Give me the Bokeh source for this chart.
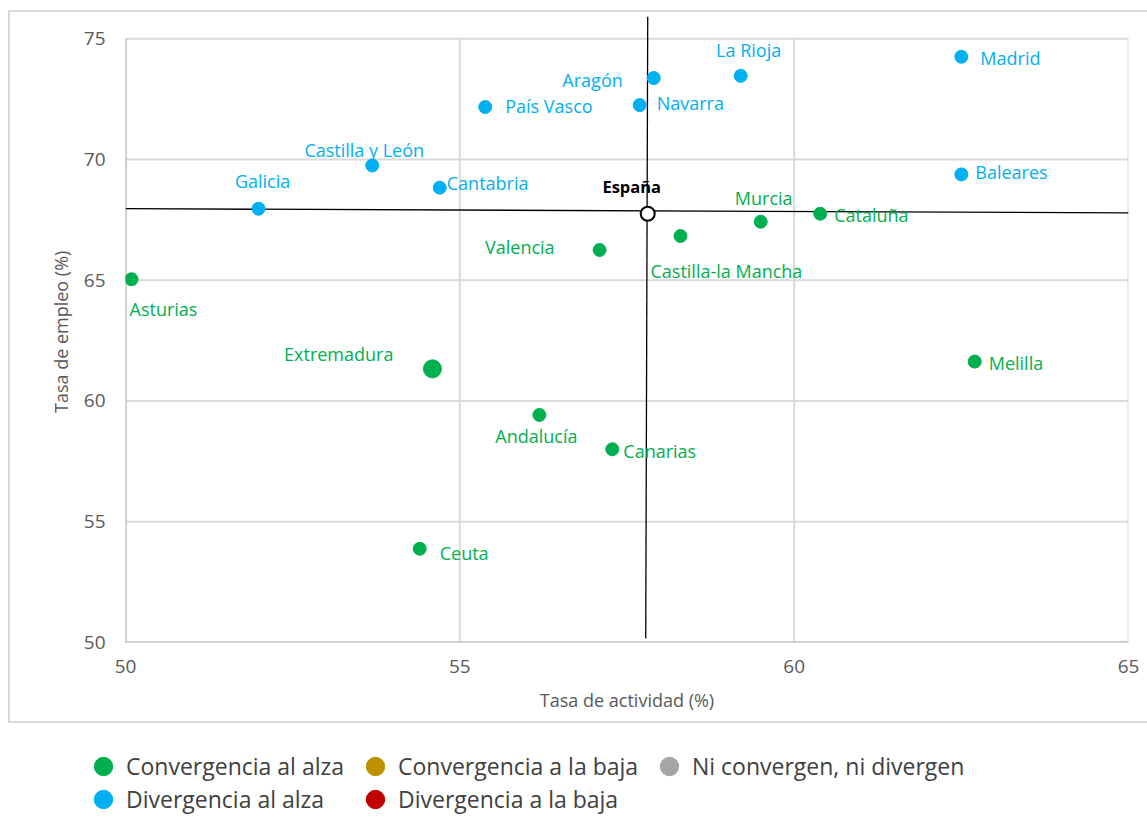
from bokeh.plotting import figure
from bokeh.models import ColumnDataSource, FixedTicker, Legend, LegendItem, Range1d
from bokeh.core.properties import value
from bokeh.embed import file_html
from bokeh.resources import INLINE

# ---------------- data ----------------
regions = ["Madrid", "La Rioja", "Aragón", "Navarra", "País Vasco", "Castilla y León",
           "Cantabria", "Galicia", "Baleares", "Cataluña", "Murcia", "Castilla-la Mancha",
           "Valencia", "Asturias", "Extremadura", "Melilla", "Andalucía", "Canarias", "Ceuta"]
activity = [62.50, 59.20, 57.90, 57.69, 55.38, 53.69, 54.70, 51.99, 62.50, 60.39, 59.50,
            58.30, 57.09, 50.09, 54.59, 62.70, 56.19, 57.28, 54.40]
employment = [74.25, 73.46, 73.37, 72.25, 72.17, 69.75, 68.83, 67.96, 69.38, 67.75, 67.42,
              66.83, 66.25, 65.04, 61.33, 61.63, 59.42, 58.00, 53.88]
group = ["Divergencia al alza"] * 9 + ["Convergencia al alza"] * 10

spain_name = ["España"]
spain_activity = [57.81]
spain_employment = [67.75]

# reference lines through España (as drawn in the original)
hline_x = [50.0, 65.0]
hline_y = [67.96, 67.79]
vline_x = [57.81, 57.78]
vline_y = [75.92, 50.17]

legend_labels = ["Convergencia al alza", "Convergencia a la baja", "Ni convergen, ni divergen",
                 "Divergencia al alza", "Divergencia a la baja"]
legend_colors = ["#00B050", "#BF9000", "#A5A5A5", "#00B0F0", "#C00000"]

x_ticks = [50, 55, 60, 65]
y_ticks = [50, 55, 60, 65, 70, 75]

# ---------------- styles ----------------
color_of = dict(zip(legend_labels, legend_colors))
point_size = [13] * 14 + [18] + [13] * 4
label_align = ["left", "center", "right", "left", "left", "center", "left", "center", "left",
               "left", "center", "left", "right", "left", "right", "left", "center", "left", "left"]
label_dx = [19, 8, -31, 17, 20, -8, 7, 4, 14, 14, 3, -30, -45, -2, -39, 14, -3, 11, 20]
label_dy = [1, -26, 2, -2, -1, -15, -5, -28, -2, 1, -24, 35, -3, 30, -15, 1, 21, 2, 4]
# legend layout (screen px offsets of each entry inside the legend strip)
legend_col = [0, 1, 2, 0, 1]
legend_row = [0, 0, 0, 1, 1]
col_left = [80, 352, 646]
row_bottom = [27, -6]

FONT = "Open Sans"
GRAY = "#595959"

src = ColumnDataSource(dict(
    x=activity, y=employment, name=regions,
    color=[color_of[g] for g in group], size=point_size,
    align=label_align, dx=label_dx, dy=label_dy,
))

p = figure(width=1139, height=713, output_backend="svg", toolbar_location=None,
           x_range=Range1d(50, 65), y_range=Range1d(50, 75.917),
           min_border_left=115, min_border_right=21, min_border_top=4, min_border_bottom=83,
           margin=(10, 0, 0, 8),
           styles={"border-top": "2px solid #d9d9d9", "border-left": "2px solid #d9d9d9",
                   "border-bottom": "2px solid #d9d9d9", "box-sizing": "border-box"})
p.outline_line_color = None
p.grid.visible = False

# grid lines drawn from the tick values, limited to the tick extent
p.segment(x0=x_ticks, y0=[min(y_ticks)] * len(x_ticks), x1=x_ticks, y1=[max(y_ticks)] * len(x_ticks),
          line_color="#d9d9d9", line_width=2)
p.segment(x0=[min(x_ticks)] * len(y_ticks), y0=y_ticks, x1=[max(x_ticks)] * len(y_ticks), y1=y_ticks,
          line_color="#d9d9d9", line_width=2)
# axis lines
p.segment(x0=[min(x_ticks)], y0=[min(y_ticks)], x1=[min(x_ticks)], y1=[max(y_ticks)],
          line_color="#bfbfbf", line_width=2.5)
p.segment(x0=[min(x_ticks)], y0=[min(y_ticks)], x1=[max(x_ticks)], y1=[min(y_ticks)],
          line_color="#bfbfbf", line_width=2.5)

# España reference lines
p.line(hline_x, hline_y, line_color="black", line_width=1.3)
p.line(vline_x, vline_y, line_color="black", line_width=1.3)

p.scatter("x", "y", source=src, size="size", fill_color="color", line_color="color")
p.text("x", "y", text="name", source=src, text_color="color", text_align="align",
       text_baseline="middle", x_offset="dx", y_offset="dy",
       text_font=value(FONT), text_font_size="18px")

p.scatter(spain_activity, spain_employment, size=14, fill_color="white",
          line_color="black", line_width=2)
p.text(spain_activity, spain_employment, text=spain_name, text_color="black",
       text_align="center", text_baseline="middle", x_offset=-16, y_offset=-27,
       text_font=value(FONT), text_font_size="16.5px", text_font_style="bold")

for ax in (p.xaxis[0], p.yaxis[0]):
    ax.axis_line_color = None
    ax.major_tick_line_color = None
    ax.minor_tick_line_color = None
    ax.major_tick_out = 0
    ax.major_label_text_font = FONT
    ax.major_label_text_font_size = "19px"
    ax.major_label_text_color = GRAY
    ax.axis_label_text_font = FONT
    ax.axis_label_text_font_size = "18px"
    ax.axis_label_text_font_style = "normal"
    ax.axis_label_text_color = GRAY

p.xaxis.ticker = FixedTicker(ticks=x_ticks)
p.yaxis.ticker = FixedTicker(ticks=y_ticks)
p.xaxis.major_label_standoff = 17
p.yaxis.major_label_standoff = 20
p.xaxis.axis_label = "Tasa de actividad (%)"
p.yaxis.axis_label = "Tasa de empleo  (%)"
p.xaxis.axis_label_standoff = 12
p.yaxis.axis_label_standoff = 8

# ---------------- legend ----------------
lg = figure(width=1147, height=93, output_backend="svg", toolbar_location=None,
            x_axis_location=None, y_axis_location=None, min_border=0,
            x_range=Range1d(0, 1), y_range=Range1d(0, 1))
lg.outline_line_color = None
lg.grid.visible = False
for lab, col, c, r in zip(legend_labels, legend_colors, legend_col, legend_row):
    rend = lg.scatter(x=[-10], y=[-10], size=22, fill_color=col, line_color=col)
    leg = Legend(items=[LegendItem(label=lab, renderers=[rend])],
                 location=(col_left[c], row_bottom[r]), border_line_color=None,
                 background_fill_alpha=0, padding=0, margin=0, spacing=0,
                 label_standoff=0, glyph_width=46, glyph_height=46, label_height=22,
                 label_text_font=FONT, label_text_font_size="23px",
                 label_text_color="#404040", label_text_baseline="middle")
    lg.add_layout(leg, "center")

open("out.html", "w").write(file_html([p, lg], INLINE))
